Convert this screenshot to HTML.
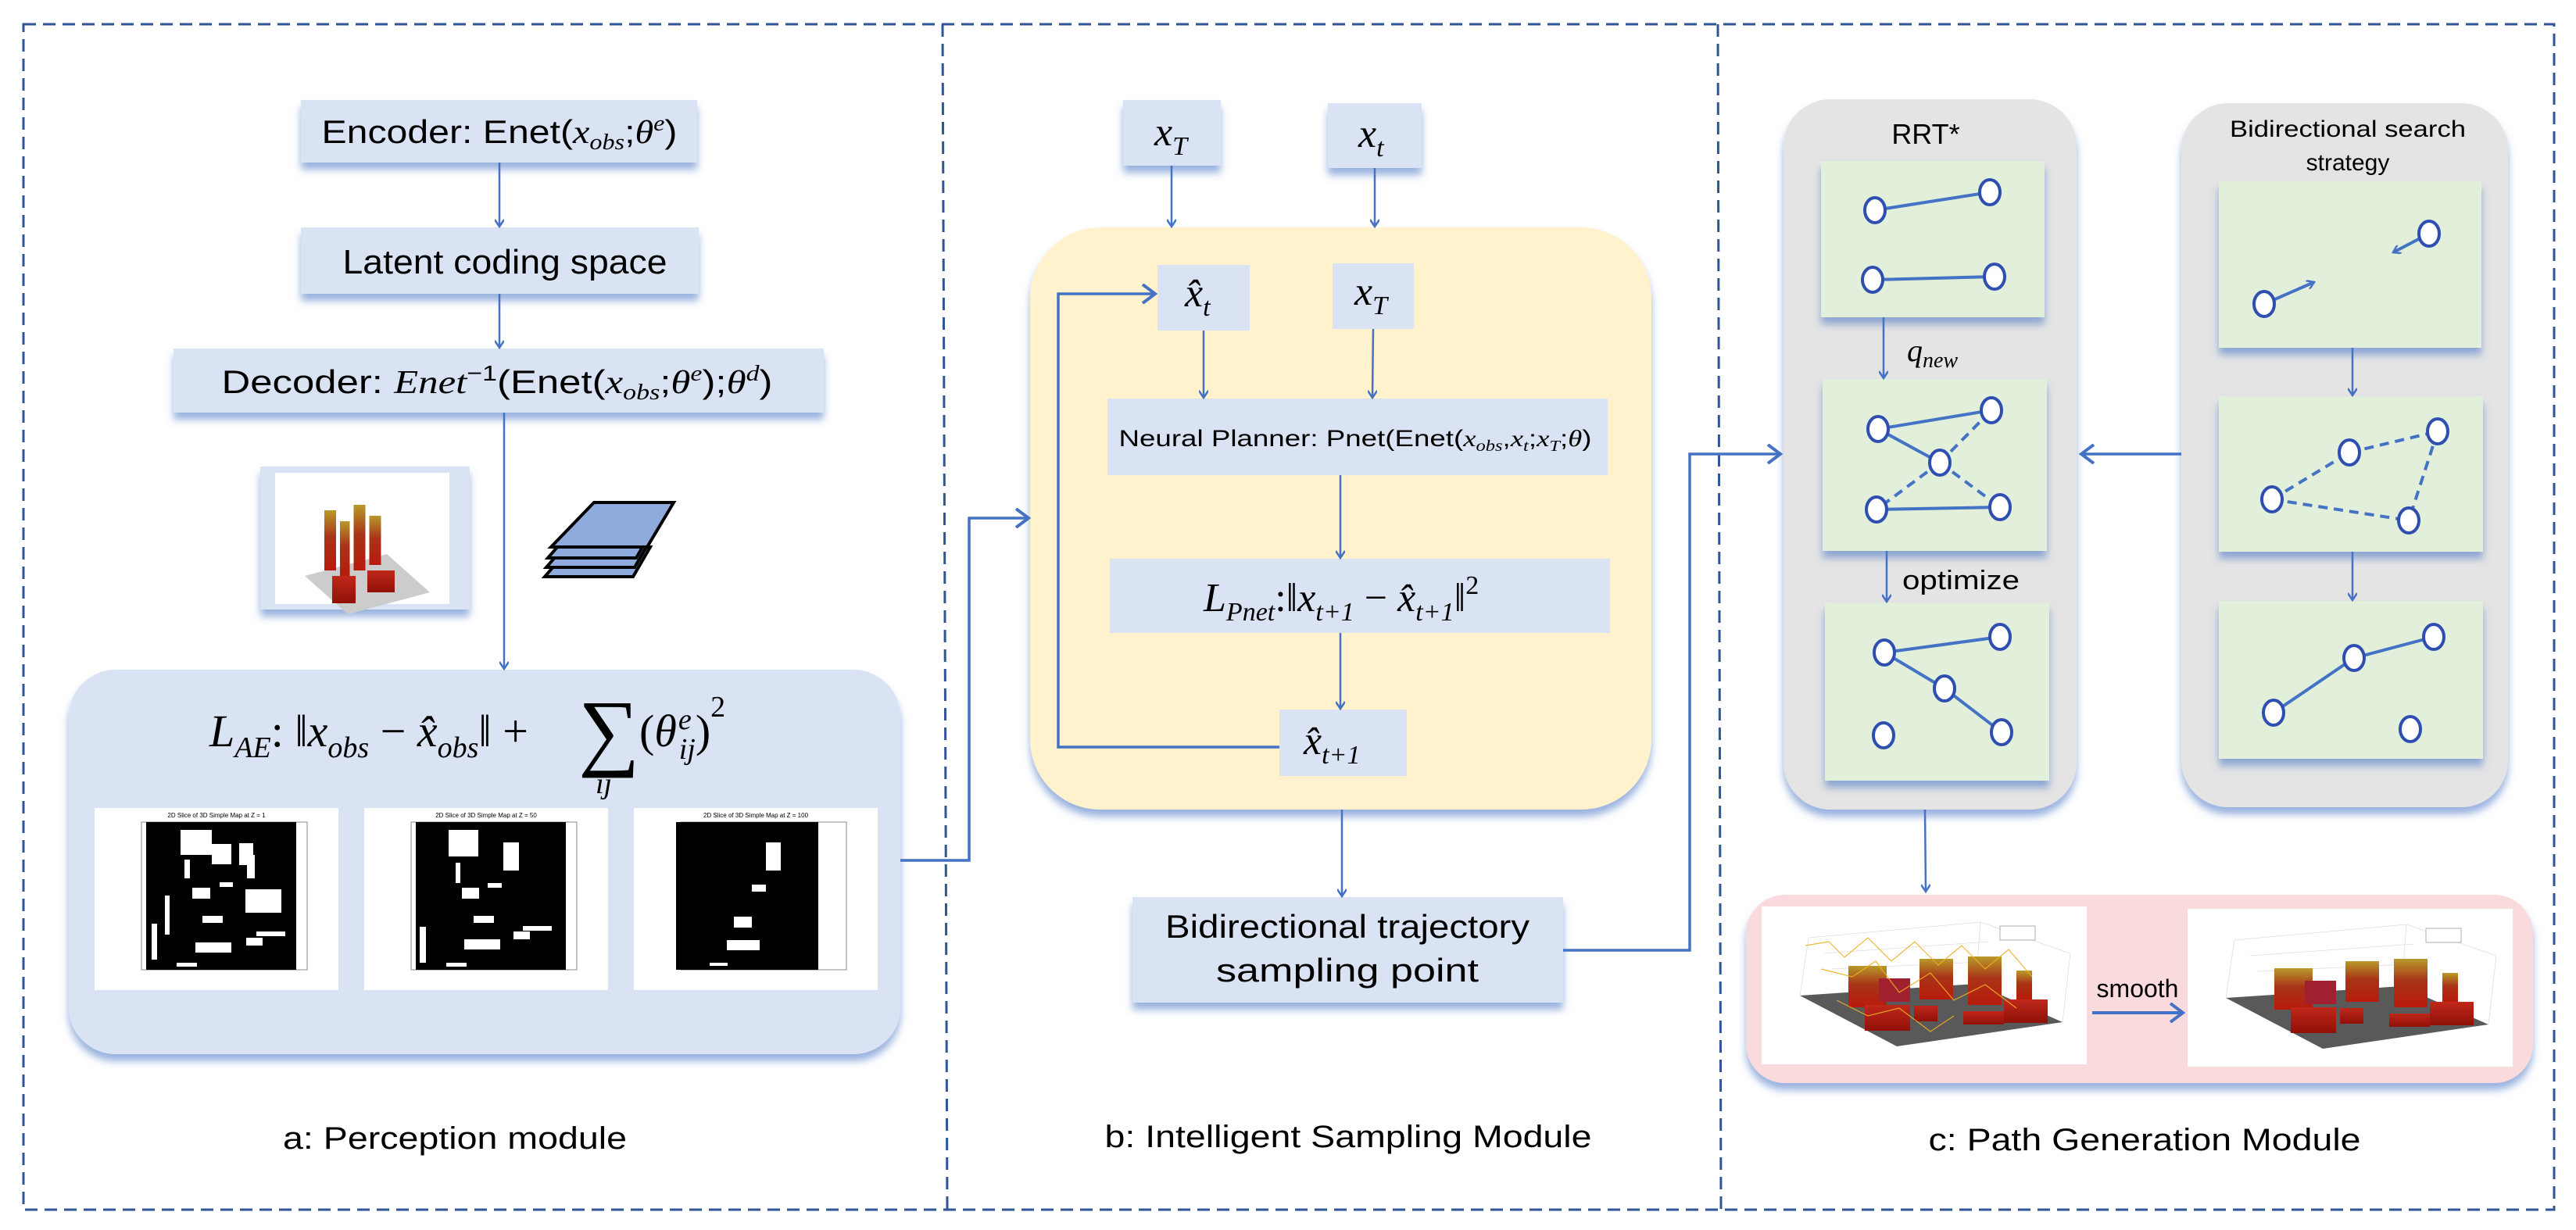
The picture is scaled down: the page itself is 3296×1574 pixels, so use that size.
<!DOCTYPE html>
<html><head><meta charset="utf-8"><style>
html,body{margin:0;padding:0;background:#fff;}
svg{display:block;}
text{font-family:"Liberation Sans",sans-serif;fill:#000;}
.m{font-family:"Liberation Serif",serif;font-style:italic;}
.r{font-family:"Liberation Serif",serif;font-style:normal;}
</style></head><body>
<svg width="3296" height="1574" viewBox="0 0 3296 1574" xmlns="http://www.w3.org/2000/svg">
<defs>
<filter id="sh" x="-10%" y="-10%" width="120%" height="140%">
<feGaussianBlur in="SourceAlpha" stdDeviation="5"/>
<feOffset dy="9"/>
<feComponentTransfer><feFuncA type="linear" slope="0.55"/></feComponentTransfer>
<feFlood flood-color="#4472C4"/><feComposite operator="in" in2="SourceGraphic"/>
</filter>
<filter id="bs" x="-10%" y="-10%" width="120%" height="130%">
<feGaussianBlur in="SourceAlpha" stdDeviation="5" result="b"/>
<feOffset in="b" dy="9" result="o"/>
<feFlood flood-color="#4472C4" flood-opacity="0.55"/>
<feComposite in2="o" operator="in" result="s"/>
<feMerge><feMergeNode in="s"/><feMergeNode in="SourceGraphic"/></feMerge>
</filter>
<linearGradient id="bar" x1="0" y1="0" x2="0" y2="1">
<stop offset="0" stop-color="#b89a2a"/><stop offset="0.45" stop-color="#a83418"/><stop offset="1" stop-color="#b81a0c"/>
</linearGradient>
<linearGradient id="bar2" x1="0" y1="0" x2="0" y2="1">
<stop offset="0" stop-color="#c0281a"/><stop offset="1" stop-color="#901008"/>
</linearGradient>
<marker id="ah" markerWidth="12" markerHeight="12" refX="10" refY="6" orient="auto" markerUnits="userSpaceOnUse">
<path d="M1,0 L10,6 L1,12" fill="none" stroke="#4472C4" stroke-width="2.5"/>
</marker>
<marker id="ahb" markerWidth="22" markerHeight="26" refX="18" refY="13" orient="auto" markerUnits="userSpaceOnUse">
<path d="M2,1 L18,13 L2,25" fill="none" stroke="#4472C4" stroke-width="4"/>
</marker>
<g id="city">
<rect x="0" y="0" width="416" height="202" fill="#fff"/>
<g stroke="#ddd" stroke-width="0.8" fill="none">
<path d="M49,114 L60,40 M274,99 L280,20 M385,148 L395,60 M60,40 L280,20 L395,60"/>
<path d="M80,60 L290,45 M90,80 L300,70"/>
</g>
<polygon points="49,114 274,99 385,148 173,179" fill="#595959"/>
<rect x="111" y="76" width="49" height="53" fill="url(#bar)"/>
<rect x="202" y="67" width="43" height="52" fill="url(#bar)"/>
<rect x="264" y="64" width="43" height="62" fill="url(#bar)"/>
<rect x="326" y="82" width="20" height="37" fill="url(#bar)"/>
<rect x="150" y="92" width="40" height="30" fill="#a02030"/>
<rect x="132" y="126" width="58" height="33" fill="url(#bar2)"/>
<rect x="195" y="127" width="30" height="20" fill="url(#bar2)"/>
<rect x="310" y="119" width="56" height="30" fill="url(#bar2)"/>
<rect x="258" y="134" width="52" height="17" fill="url(#bar2)"/>
<rect x="305" y="25" width="45" height="18" fill="#fff" stroke="#999" stroke-width="0.8"/>
</g>
<g id="mapbase">
<rect x="0" y="0" width="312" height="233" fill="#fff"/>
<rect x="60" y="18" width="212" height="189" fill="none" stroke="#888" stroke-width="1"/>
</g>
</defs>

<!-- outer dashed frame -->
<g fill="none" stroke="#2F5597" stroke-width="3" stroke-dasharray="16,9">
<rect x="30" y="31" width="3238" height="1517"/>
<line x1="1206" y1="31" x2="1212" y2="1548"/>
<line x1="2198" y1="31" x2="2202" y2="1548"/>
</g>

<!-- ===== Panel a ===== -->
<g filter="url(#bs)" fill="#DAE3F3">
<rect x="385" y="128" width="507" height="80"/>
<rect x="385" y="291" width="509" height="85"/>
<rect x="222" y="446" width="832" height="82"/>
<rect x="88" y="857" width="1064" height="492" rx="60"/>
<rect x="333" y="597" width="268" height="183"/>
</g>
<text x="639" y="183" font-size="42" text-anchor="middle" textLength="455" lengthAdjust="spacingAndGlyphs">Encoder: Enet(<tspan class="m">x</tspan><tspan class="m" font-size="28" dy="8">obs</tspan><tspan dy="-8">;</tspan><tspan class="m">θ</tspan><tspan class="m" font-size="28" dy="-16">e</tspan><tspan dy="16">)</tspan></text>
<text x="646" y="350" font-size="44" text-anchor="middle" textLength="415" lengthAdjust="spacingAndGlyphs">Latent coding space</text>
<text x="636" y="503" font-size="42" text-anchor="middle" textLength="705" lengthAdjust="spacingAndGlyphs">Decoder: <tspan class="m">Enet</tspan><tspan font-size="28" dy="-16">−1</tspan><tspan dy="16">(Enet(</tspan><tspan class="m">x</tspan><tspan class="m" font-size="28" dy="8">obs</tspan><tspan dy="-8">;</tspan><tspan class="m">θ</tspan><tspan class="m" font-size="28" dy="-16">e</tspan><tspan dy="16">);</tspan><tspan class="m">θ</tspan><tspan class="m" font-size="28" dy="-16">d</tspan><tspan dy="16">)</tspan></text>
<g stroke="#4472C4" stroke-width="2.5" fill="none" marker-end="url(#ah)">
<line x1="639" y1="208" x2="639" y2="290"/>
<line x1="639" y1="376" x2="639" y2="445"/>
<line x1="645" y1="528" x2="645" y2="856"/>
</g>
<!-- small 3d image -->
<rect x="352" y="605" width="223" height="168" fill="#fff"/>
<g transform="translate(370,625) scale(0.5,0.7)">
<polygon points="40,160 250,120 360,190 150,230" fill="#ccc"/>
<rect x="90" y="40" width="30" height="110" fill="url(#bar)"/>
<rect x="130" y="60" width="25" height="100" fill="url(#bar)"/>
<rect x="165" y="30" width="30" height="120" fill="url(#bar)"/>
<rect x="205" y="50" width="30" height="90" fill="url(#bar)"/>
<rect x="110" y="160" width="60" height="50" fill="url(#bar2)"/>
<rect x="200" y="150" width="70" height="40" fill="url(#bar2)"/>
</g>
<!-- stack icon -->
<g fill="#8FAADC" stroke="#000" stroke-width="4">
<polygon points="730,700 832,700 810,738 697,738"/>
<polygon points="732,688 834,688 812,726 699,726"/>
<polygon points="734,676 836,676 814,714 701,714"/>
<polygon points="760,643 862,643 828,700 705,700"/>
</g>
<!-- LAE formula -->
<text x="268" y="955" font-size="58" class="m">L<tspan font-size="38" dy="14">AE</tspan><tspan class="r" dy="-14">: ‖</tspan>x<tspan font-size="38" dy="14">obs</tspan><tspan class="r" dy="-14"> − </tspan>x̂<tspan font-size="38" dy="14">obs</tspan><tspan class="r" dy="-14">‖ + </tspan></text>
<text x="740" y="972" font-size="110" class="r">∑</text>
<text x="762" y="1015" font-size="38" class="m">ij</text>
<text x="818" y="955" font-size="58" class="r">(<tspan class="m">θ</tspan><tspan class="m" font-size="38" dx="2" dy="-22">e</tspan><tspan class="m" font-size="38" dx="-16" dy="38">ij</tspan><tspan dy="-16">)</tspan><tspan font-size="38" dy="-38">2</tspan></text>
<!-- maps -->
<g transform="translate(121,1034)">
<use href="#mapbase"/>
<rect x="66" y="18" width="192" height="189" fill="#000"/>
<g fill="#fff"><rect x="110" y="28" width="40" height="32"/><rect x="150" y="46" width="25" height="26"/><rect x="185" y="45" width="18" height="28"/><rect x="195" y="60" width="10" height="30"/><rect x="115" y="66" width="7" height="24"/><rect x="160" y="95" width="17" height="6"/><rect x="125" y="102" width="23" height="14"/><rect x="193" y="104" width="46" height="30"/><rect x="90" y="112" width="6" height="50"/><rect x="138" y="138" width="26" height="9"/><rect x="73" y="148" width="7" height="46"/><rect x="207" y="158" width="37" height="6"/><rect x="194" y="166" width="21" height="10"/><rect x="129" y="172" width="46" height="13"/><rect x="105" y="198" width="26" height="5"/></g>
<text x="156" y="12" font-size="8" text-anchor="middle">2D Slice of 3D Simple Map at Z = 1</text>
</g>
<g transform="translate(466,1034)">
<use href="#mapbase"/>
<rect x="66" y="18" width="192" height="189" fill="#000"/>
<g fill="#fff"><rect x="108" y="28" width="38" height="34"/><rect x="178" y="44" width="20" height="36"/><rect x="117" y="70" width="6" height="26"/><rect x="158" y="96" width="18" height="6"/><rect x="125" y="102" width="22" height="14"/><rect x="140" y="138" width="26" height="9"/><rect x="71" y="152" width="8" height="46"/><rect x="203" y="151" width="37" height="6"/><rect x="191" y="158" width="21" height="10"/><rect x="128" y="168" width="46" height="13"/><rect x="105" y="198" width="26" height="5"/></g>
<text x="156" y="12" font-size="8" text-anchor="middle">2D Slice of 3D Simple Map at Z = 50</text>
</g>
<g transform="translate(811,1034)">
<use href="#mapbase"/>
<rect x="54" y="18" width="182" height="189" fill="#000"/>
<g fill="#fff"><rect x="169" y="44" width="19" height="36"/><rect x="151" y="98" width="18" height="9"/><rect x="128" y="139" width="23" height="14"/><rect x="119" y="169" width="42" height="13"/><rect x="97" y="198" width="23" height="4"/></g>
<text x="156" y="12" font-size="8" text-anchor="middle">2D Slice of 3D Simple Map at Z = 100</text>
</g>
<text x="582" y="1470" font-size="40" text-anchor="middle" textLength="440" lengthAdjust="spacingAndGlyphs">a: Perception module</text>

<!-- ===== Panel b ===== -->
<g filter="url(#bs)">
<rect x="1318" y="291" width="795" height="745" rx="90" fill="#FFF2CC"/>
<g fill="#DAE3F3">
<rect x="1437" y="128" width="125" height="84"/>
<rect x="1699" y="132" width="120" height="83"/>
<rect x="1481" y="339" width="118" height="84"/>
<rect x="1705" y="337" width="104" height="84"/>
<rect x="1417" y="510" width="640" height="98"/>
<rect x="1420" y="715" width="640" height="95"/>
<rect x="1637" y="908" width="163" height="85"/>
<rect x="1449" y="1148" width="551" height="135"/>
</g>
</g>
<text x="1477" y="186" font-size="52" class="m">x<tspan font-size="34" dy="12">T</tspan></text>
<text x="1738" y="188" font-size="52" class="m">x<tspan font-size="34" dy="12">t</tspan></text>
<text x="1516" y="392" font-size="52" class="m">x̂<tspan font-size="34" dy="12">t</tspan></text>
<text x="1733" y="390" font-size="52" class="m">x<tspan font-size="34" dy="12">T</tspan></text>
<text x="1734" y="571" font-size="30" text-anchor="middle" textLength="605" lengthAdjust="spacingAndGlyphs">Neural Planner: Pnet(Enet(<tspan class="m">x</tspan><tspan class="m" font-size="20" dy="6">obs</tspan><tspan dy="-6">,</tspan><tspan class="m">x</tspan><tspan class="m" font-size="20" dy="6">t</tspan><tspan dy="-6">;</tspan><tspan class="m">x</tspan><tspan class="m" font-size="20" dy="6">T</tspan><tspan dy="-6">;</tspan><tspan class="m">θ</tspan>)</text>
<text x="1540" y="782" font-size="52" class="m">L<tspan font-size="34" dy="12">Pnet</tspan><tspan class="r" dy="-12">:‖</tspan>x<tspan font-size="34" dy="12">t+1</tspan><tspan class="r" dy="-12"> − </tspan>x̂<tspan font-size="34" dy="12">t+1</tspan><tspan class="r" dy="-12">‖</tspan><tspan class="r" font-size="34" dy="-22">2</tspan></text>
<text x="1668" y="965" font-size="52" class="m">x̂<tspan font-size="34" dy="12">t+1</tspan></text>
<text x="1724" y="1200" font-size="42" text-anchor="middle" textLength="466" lengthAdjust="spacingAndGlyphs">Bidirectional trajectory</text>
<text x="1724" y="1256" font-size="42" text-anchor="middle" textLength="336" lengthAdjust="spacingAndGlyphs">sampling point</text>
<g stroke="#4472C4" stroke-width="2.5" fill="none" marker-end="url(#ah)">
<line x1="1499" y1="212" x2="1499" y2="290"/>
<line x1="1759" y1="215" x2="1759" y2="290"/>
<line x1="1540" y1="423" x2="1540" y2="509"/>
<line x1="1757" y1="421" x2="1756" y2="509"/>
<line x1="1715" y1="608" x2="1715" y2="714"/>
<line x1="1715" y1="810" x2="1715" y2="907"/>
<line x1="1717" y1="1036" x2="1717" y2="1147"/>
</g>
<g stroke="#4472C4" stroke-width="3.5" fill="none">
<polyline points="1637,956 1354,956 1354,376 1478,376" marker-end="url(#ahb)"/>
<polyline points="1152,1101 1240,1101 1240,663 1316,663" marker-end="url(#ahb)"/>
<polyline points="2000,1216 2162,1216 2162,581 2278,581" marker-end="url(#ahb)"/>
<line x1="2791" y1="581" x2="2663" y2="581" marker-end="url(#ahb)"/>
</g>
<text x="1725" y="1468" font-size="40" text-anchor="middle" textLength="623" lengthAdjust="spacingAndGlyphs">b: Intelligent Sampling Module</text>

<!-- ===== Panel c ===== -->
<g filter="url(#bs)">
<rect x="2282" y="127" width="375" height="909" rx="60" fill="#E4E4E4"/>
<rect x="2791" y="132" width="418" height="901" rx="60" fill="#E4E4E4"/>
</g>
<text x="2464" y="184" font-size="36" text-anchor="middle">RRT*</text>
<text x="3004" y="175" font-size="30" text-anchor="middle" textLength="302" lengthAdjust="spacingAndGlyphs">Bidirectional search</text>
<text x="3004" y="218" font-size="30" text-anchor="middle">strategy</text>
<g filter="url(#bs)" fill="#E2EFDA">
<rect x="2330" y="206" width="286" height="200"/>
<rect x="2332" y="485" width="287" height="220"/>
<rect x="2335" y="771" width="287" height="228"/>
<rect x="2839" y="232" width="336" height="213"/>
<rect x="2839" y="507" width="338" height="199"/>
<rect x="2839" y="769" width="338" height="202"/>
</g>
<g stroke="#4472C4" stroke-width="2.5" fill="none" marker-end="url(#ah)">
<line x1="2410" y1="406" x2="2410" y2="484"/>
<line x1="2414" y1="705" x2="2414" y2="770"/>
<line x1="3010" y1="445" x2="3010" y2="506"/>
<line x1="3010" y1="706" x2="3010" y2="768"/>
<line x1="2463" y1="1036" x2="2464" y2="1141"/>
</g>
<text x="2440" y="462" font-size="40" class="m">q<tspan font-size="28" dy="8">new</tspan></text>
<text x="2434" y="754" font-size="34" textLength="150" lengthAdjust="spacingAndGlyphs">optimize</text>
<!-- graph edges -->
<g stroke="#4472C4" stroke-width="4" fill="none">
<line x1="2399" y1="269" x2="2546" y2="246"/>
<line x1="2396" y1="358" x2="2552" y2="354"/>
<line x1="2403" y1="549" x2="2548" y2="525"/>
<line x1="2403" y1="549" x2="2482" y2="592"/>
<line x1="2401" y1="652" x2="2559" y2="649"/>
<line x1="2411" y1="835" x2="2559" y2="815"/>
<line x1="2411" y1="835" x2="2488" y2="881"/>
<line x1="2488" y1="881" x2="2561" y2="937"/>
<line x1="2909" y1="912" x2="3012" y2="842"/>
<line x1="3012" y1="842" x2="3114" y2="815"/>
<line x1="2897" y1="389" x2="2961" y2="361" marker-end="url(#ah)"/>
<line x1="3108" y1="299" x2="3062" y2="323" marker-end="url(#ah)"/>
</g>
<g stroke="#4472C4" stroke-width="4" fill="none" stroke-dasharray="12,8">
<line x1="2482" y1="592" x2="2548" y2="525"/>
<line x1="2482" y1="592" x2="2401" y2="652"/>
<line x1="2482" y1="592" x2="2559" y2="649"/>
<line x1="2907" y1="639" x2="3006" y2="579"/>
<line x1="3006" y1="579" x2="3119" y2="552"/>
<line x1="3119" y1="552" x2="3082" y2="666"/>
<line x1="2907" y1="639" x2="3082" y2="666"/>
</g>
<g fill="#fff" stroke="#2F4FB0" stroke-width="4">
<ellipse cx="2399" cy="269" rx="13" ry="16"/><ellipse cx="2546" cy="246" rx="13" ry="16"/>
<ellipse cx="2396" cy="358" rx="13" ry="16"/><ellipse cx="2552" cy="354" rx="13" ry="16"/>
<ellipse cx="2403" cy="549" rx="13" ry="16"/><ellipse cx="2548" cy="525" rx="13" ry="16"/>
<ellipse cx="2482" cy="592" rx="13" ry="16"/><ellipse cx="2401" cy="652" rx="13" ry="16"/>
<ellipse cx="2559" cy="649" rx="13" ry="16"/>
<ellipse cx="2411" cy="835" rx="13" ry="16"/><ellipse cx="2559" cy="815" rx="13" ry="16"/>
<ellipse cx="2488" cy="881" rx="13" ry="16"/><ellipse cx="2410" cy="941" rx="13" ry="16"/>
<ellipse cx="2561" cy="937" rx="13" ry="16"/>
<ellipse cx="3108" cy="299" rx="13" ry="16"/><ellipse cx="2897" cy="389" rx="13" ry="16"/>
<ellipse cx="2907" cy="639" rx="13" ry="16"/><ellipse cx="3006" cy="579" rx="13" ry="16"/>
<ellipse cx="3119" cy="552" rx="13" ry="16"/><ellipse cx="3082" cy="666" rx="13" ry="16"/>
<ellipse cx="2909" cy="912" rx="13" ry="16"/><ellipse cx="3012" cy="842" rx="13" ry="16"/>
<ellipse cx="3114" cy="815" rx="13" ry="16"/><ellipse cx="3084" cy="933" rx="13" ry="16"/>
</g>
<!-- pink box -->
<rect x="2234" y="1145" width="1007" height="241" rx="50" fill="#F9DADD" filter="url(#bs)"/>
<use href="#city" x="2254" y="1160"/>
<use href="#city" x="2799" y="1163"/>
<g stroke="#F0B020" stroke-width="1.2" fill="none" opacity="0.9">
<path d="M2310,1210 L2340,1205 L2360,1225 L2390,1200 L2420,1230 L2450,1205 L2480,1235 L2510,1210 L2540,1240 L2570,1215 L2600,1250"/>
<path d="M2330,1240 L2370,1250 L2400,1230 L2430,1270 L2470,1245 L2500,1280 L2540,1260 L2580,1290"/>
<path d="M2350,1280 L2390,1300 L2430,1290 L2470,1320 L2500,1300"/>
</g>
<text x="2735" y="1276" font-size="32" text-anchor="middle">smooth</text>
<line x1="2677" y1="1296" x2="2793" y2="1296" stroke="#4472C4" stroke-width="4" marker-end="url(#ahb)"/>
<text x="2744" y="1472" font-size="40" text-anchor="middle" textLength="553" lengthAdjust="spacingAndGlyphs">c: Path Generation Module</text>
</svg>
</body></html>
